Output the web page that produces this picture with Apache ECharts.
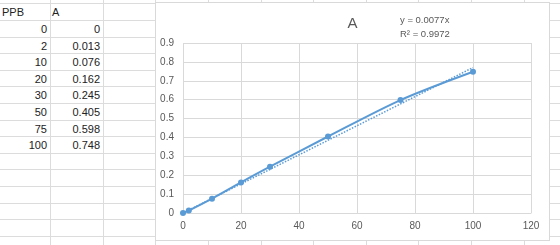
<!DOCTYPE html>
<html>
<head>
<meta charset="utf-8">
<script src="https://cdn.jsdelivr.net/npm/echarts@6/dist/echarts.min.js"></script>
<style>
  html, body { margin: 0; padding: 0; background: #fff; width: 560px; height: 245px; overflow: hidden; font-family: "Liberation Sans", Arial, sans-serif; }
  .gl { position: absolute; background: #dcdcdc; }
  .cell { position: absolute; font-size: 11px; color: #222; height: 16px; line-height: 16px; white-space: nowrap; }
  #chart { position: absolute; left: 155px; top: 2px; width: 393px; height: 237px; border: 1px solid #d9d9d9; background: #fff; }
</style>
</head>
<body>
<div id="sheet"></div>
<div id="chart"></div>
<script>
// ===== 数据 =====
const headers = ['PPB', 'A'];
const ppb = [0, 2, 10, 20, 30, 50, 75, 100];
const absorbance = [0, 0.013, 0.076, 0.162, 0.245, 0.405, 0.598, 0.748];
// 线性趋势线端点（y = 0.0077x）
const trendPpb = [0, 100];
const trendAbs = [0, 0.77];
const chartTitle = 'A';
const equationLines = ['y = 0.0077x', 'R² = 0.9972'];
const xTicks = { min: 0, max: 120, step: 20 };
const yTicks = { min: 0, max: 0.9, step: 0.1 };

// ===== 表格背景（网格线 + 单元格） =====
const ROW_TOP = 3.3, ROW_H = 16.6, COL_FIRST = 50.2, COL_W = 52.6;
const sheet = document.getElementById('sheet');

for (let j = 0; j < 15; j++) {
  const d = document.createElement('div');
  d.className = 'gl';
  d.style.cssText = `left:0;top:${Math.round(ROW_TOP + ROW_H * j)}px;width:560px;height:1px;`;
  sheet.appendChild(d);
}
for (let k = 0; k < 11; k++) {
  const d = document.createElement('div');
  d.className = 'gl';
  d.style.cssText = `left:${Math.round(COL_FIRST + COL_W * k)}px;top:0;width:1px;height:245px;`;
  sheet.appendChild(d);
}

function addCell(text, row, col, align) {
  const d = document.createElement('div');
  d.className = 'cell';
  const top = Math.round(ROW_TOP + ROW_H * row) + 1;
  const left = col === 0 ? 0 : Math.round(COL_FIRST + COL_W * (col - 1));
  const right = Math.round(COL_FIRST + COL_W * col);
  d.style.top = top + 'px';
  d.style.left = (left + 2) + 'px';
  d.style.width = (right - left - 5) + 'px';
  d.style.textAlign = align;
  d.textContent = text;
  sheet.appendChild(d);
}
headers.forEach((h, c) => addCell(h, 0, c, 'left'));
ppb.forEach((v, i) => addCell(String(v), i + 1, 0, 'right'));
absorbance.forEach((v, i) => addCell(String(v), i + 1, 1, 'right'));

// ===== 图表 =====
const FONT = '"Liberation Sans", Arial, sans-serif';
const GRAY = '#595959';
const BLUE = '#5b9bd5';

const chart = echarts.init(document.getElementById('chart'));
chart.setOption({
  animation: false,
  title: {
    text: chartTitle,
    left: 'center',
    top: 8,
    textStyle: { fontSize: 15, fontWeight: 'normal', color: GRAY, fontFamily: FONT }
  },
  graphic: [{
    type: 'text',
    left: 244,
    top: 10,
    style: { text: equationLines.join('\n'), fontSize: 9.5, lineHeight: 14, fill: GRAY, fontFamily: FONT }
  }],
  grid: { left: 27, right: 18, top: 40, bottom: 27, containLabel: false },
  xAxis: {
    type: 'value',
    min: xTicks.min,
    max: xTicks.max,
    interval: xTicks.step,
    axisLine: { show: true, lineStyle: { color: '#d9d9d9' } },
    axisTick: { show: false },
    axisLabel: { color: GRAY, fontSize: 10, margin: 8, fontFamily: FONT },
    splitLine: { show: true, lineStyle: { color: '#d9d9d9' } }
  },
  yAxis: {
    type: 'value',
    min: yTicks.min,
    max: yTicks.max,
    interval: yTicks.step,
    axisLine: { show: false },
    axisTick: { show: false },
    axisLabel: { color: GRAY, fontSize: 10, margin: 9, fontFamily: FONT },
    splitLine: { show: true, lineStyle: { color: '#d9d9d9' } }
  },
  series: [
    {
      type: 'line',
      data: trendPpb.map((x, i) => [x, trendAbs[i]]),
      symbol: 'none',
      silent: true,
      lineStyle: { color: BLUE, width: 1.5, type: [1.5, 1.5] }
    },
    {
      type: 'line',
      data: ppb.map((x, i) => [x, absorbance[i]]),
      smooth: 0.3,
      symbol: 'circle',
      symbolSize: 6,
      itemStyle: { color: BLUE },
      lineStyle: { color: BLUE, width: 2 }
    }
  ]
});
</script>
</body>
</html>
